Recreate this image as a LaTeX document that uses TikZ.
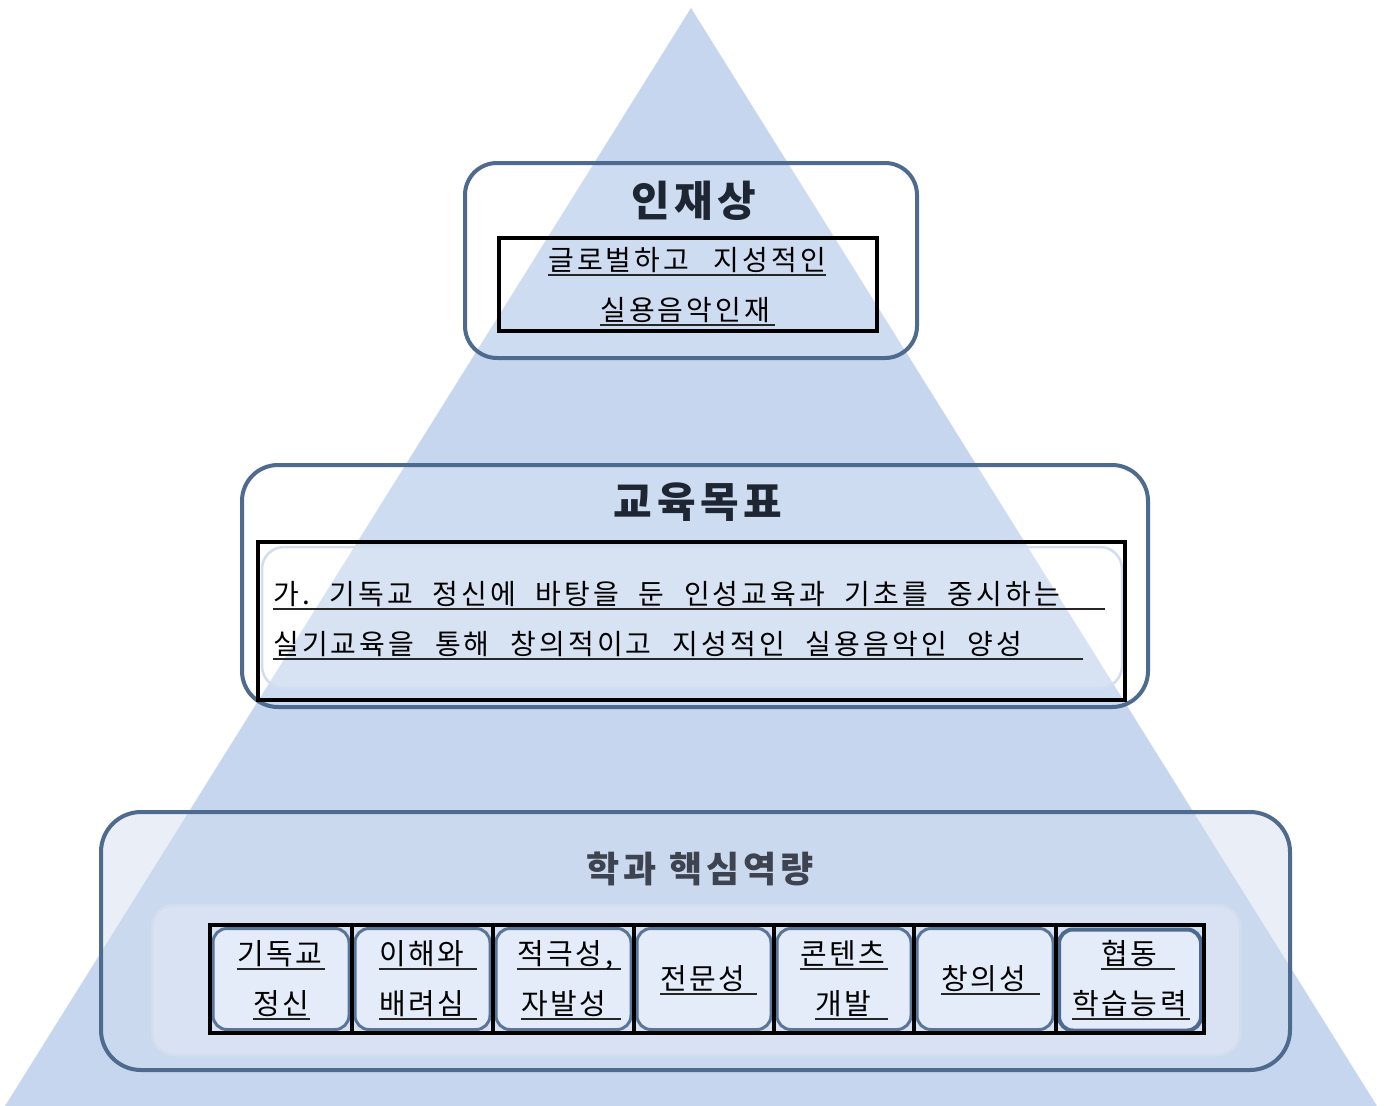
\documentclass[tikz,border=0pt]{standalone}
\usepackage{fontspec}
\newfontfamily\kr[LetterSpace=11]{Noto Sans CJK KR}
\newfontfamily\krc[LetterSpace=9]{Noto Sans CJK KR}
\definecolor{tri}{HTML}{C6D6EF}
\definecolor{boxline}{HTML}{4E6A8E}
\definecolor{cellline}{HTML}{5B7599}
\definecolor{cellfill}{HTML}{E4ECF9}
\definecolor{titlecol}{HTML}{1E2633}
\definecolor{subtitle}{HTML}{3D4350}
\definecolor{faint}{HTML}{D2DDEF}
\newcommand\ulw[2]{\rlap{\color{black!85}\rule[-6pt]{#1}{1.8pt}}#2}
\tikzset{
  outerbox/.style={draw=boxline, line width=4pt, rounded corners=32pt, inner sep=0pt},
  blackbox/.style={draw=black, line width=4pt, inner sep=0pt},
  faintbox/.style={draw=faint, line width=2.5pt, rounded corners=22pt, inner sep=0pt},
  cellbox/.style={draw=cellline, line width=3pt, fill=cellfill, rounded corners=14pt, inner sep=0pt, minimum height=101pt},
  title/.style={font=\kr\bfseries\fontsize{42}{46}\selectfont, text=titlecol, inner sep=0pt},
  body/.style={font=\kr\fontsize{28}{32}\selectfont\frenchspacing, anchor=base west, inner sep=0pt, text=black},
  cell/.style={font=\krc\fontsize{29}{32}\selectfont, anchor=base west, inner sep=0pt, text=black}
}
\begin{document}
\frenchspacing
\begin{tikzpicture}[x=1pt,y=-1pt]
\useasboundingbox (0,0) rectangle (1385,1106);
\fill[white] (0,0) rectangle (1385,1106);
\fill[tri] (691,8) -- (1377,1106) -- (5,1106) -- cycle;

% ---------- top box ----------
\node[outerbox, fill=white, fill opacity=0.15, minimum width=452pt, minimum height=195pt] (top) at (691,260.5) {};
\node[title] (toptitle) at (694,201) {인재상};
\node[blackbox, minimum width=378pt, minimum height=93pt] (topin) at (688,284.5) {};
\node[body] (top1) at (548,270) {\ulw{278pt}{\makebox[278pt][s]{글로벌하고 지성적인}}};
\node[body] (top2) at (600,320) {\ulw{175pt}{실용음악인재}};

% ---------- middle box ----------
\node[outerbox, fill=white, fill opacity=0.15, rounded corners=36pt, minimum width=906pt, minimum height=242pt] (mid) at (695,586) {};
\node[title] (midtitle) at (698,502) {교육목표};
\node[faintbox, fill=white, fill opacity=0.2, minimum width=860pt, minimum height=141pt] (midfaint) at (692,617.5) {};
\node[blackbox, minimum width=867pt, minimum height=158pt] (midin) at (691.5,621) {};
\node[body] (mid1) at (273,604) {\ulw{832pt}{\makebox[787pt][s]{가. 기독교 정신에 바탕을 둔 인성교육과 기초를 중시하는}}};
\node[body] (mid2) at (273,654) {\ulw{810pt}{\makebox[749pt][s]{실기교육을 통해 창의적이고 지성적인 실용음악인 양성}}};

% ---------- bottom box ----------
\node[outerbox, fill=faint, fill opacity=0.45, rounded corners=40pt, minimum width=1189pt, minimum height=258pt] (bot) at (695.5,941) {};
\node[title, font=\kr\bfseries\fontsize{36}{40}\selectfont, text=subtitle] (bottitle) at (700,869) {학과 핵심역량};
\node[faintbox, fill=white, fill opacity=0.25, minimum width=1088pt, minimum height=150pt] (botfaint) at (696,980) {};

% cells
\node[cellbox, minimum width=136pt] (c1) at (281,979) {};
\node[cellbox, minimum width=135pt] (c2) at (422.5,979) {};
\node[cellbox, minimum width=135pt] (c3) at (563.5,979) {};
\node[cellbox, minimum width=134pt] (c4) at (704,979) {};
\node[cellbox, minimum width=134pt] (c5) at (844,979) {};
\node[cellbox, minimum width=136pt] (c6) at (985,979) {};
\node[cellbox, minimum width=142pt, draw=boxline, line width=4pt] (c7) at (1130,980) {};

\node[blackbox, minimum width=994pt, minimum height=108pt] (row) at (707,979) {};
\coordinate (d1t) at (352,925); \coordinate (d1b) at (352,1033);
\coordinate (d2t) at (493,925); \coordinate (d2b) at (493,1033);
\coordinate (d3t) at (634,925); \coordinate (d3b) at (634,1033);
\coordinate (d4t) at (774,925); \coordinate (d4b) at (774,1033);
\coordinate (d5t) at (914,925); \coordinate (d5b) at (914,1033);
\coordinate (d6t) at (1056,925); \coordinate (d6b) at (1056,1033);
\foreach \i in {1,...,6} \draw[line width=4pt] (d\i t) -- (d\i b);

\node[cell] (t1a) at (237,964) {\ulw{88pt}{기독교}};
\node[cell] (t1b) at (253,1014) {\ulw{57pt}{정신}};
\node[cell] (t2a) at (379,964) {\ulw{98pt}{이해와}};
\node[cell] (t2b) at (379,1014) {\ulw{98pt}{배려심}};
\node[cell] (t3a) at (517,964) {\ulw{104pt}{적극성,}};
\node[cell] (t3b) at (521,1014) {\ulw{100pt}{자발성}};
\node[cell] (t4) at (660,989) {\ulw{97pt}{전문성}};
\node[cell] (t5a) at (800,964) {\ulw{88pt}{콘텐츠}};
\node[cell] (t5b) at (815,1014) {\ulw{73pt}{개발}};
\node[cell] (t6) at (941,989) {\ulw{99pt}{창의성}};
\node[cell] (t7a) at (1101,964) {\ulw{74pt}{협동}};
\node[cell] (t7b) at (1072,1014) {\ulw{118pt}{학습능력}};
\end{tikzpicture}
\end{document}
